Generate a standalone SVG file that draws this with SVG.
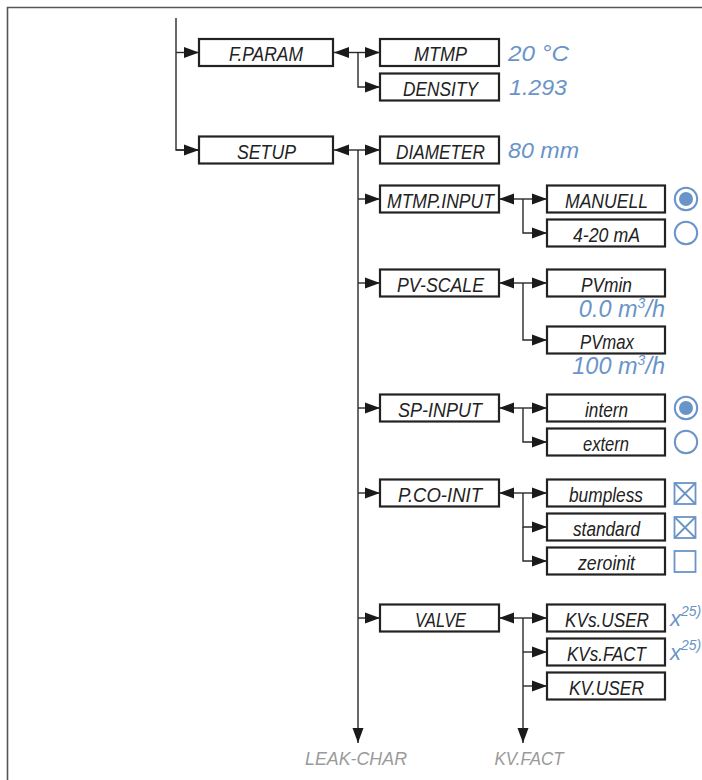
<svg xmlns="http://www.w3.org/2000/svg" width="702" height="780" viewBox="0 0 702 780">
<defs>
<style>
.bx{fill:#fff;stroke:#222;stroke-width:2.2}
.bt{font-family:"Liberation Sans",Arial,sans-serif;font-style:italic;font-size:20.5px;fill:#222;text-anchor:middle}
.val{font-family:"Liberation Sans",Arial,sans-serif;font-style:italic;font-size:22px;fill:#6a94c8}
.big{font-size:23.5px}
.sup{font-family:"Liberation Sans",Arial,sans-serif;font-style:italic;font-size:14px;fill:#6a94c8}
.gr{font-family:"Liberation Sans",Arial,sans-serif;font-style:italic;font-size:18.5px;fill:#9a9a9a;text-anchor:middle}
.cn{fill:none;stroke:#2a2a2a;stroke-width:1.4}
.ar{marker-end:url(#ah)}
.rd{fill:none;stroke:#6a94c8;stroke-width:2}
.dot{fill:#6a94c8}
.ck{fill:none;stroke:#6a94c8;stroke-width:1.8}
</style>
<marker id="ah" markerUnits="userSpaceOnUse" markerWidth="16" markerHeight="12" refX="15" refY="6" orient="auto">
<path d="M0,0.5 L15,6 L0,11.5 z" fill="#1a1a1a"/>
</marker>
</defs>
<rect width="702" height="780" fill="#fff"/>
<path d="M7.5,780 V7.5 H702" fill="none" stroke="#555" stroke-width="1.6"/>

<g id="connectors">
<path class="cn" d="M176,18 V150 H199"/>
<path class="cn ar" d="M176,150 H199"/>
<path class="cn ar" d="M176,52.5 H199"/>
<path class="cn ar" d="M358,52.5 H334"/>
<path class="cn ar" d="M358,52.5 H380"/>
<path class="cn ar" d="M358,52.5 V87 H380"/>
<path class="cn ar" d="M358,150 H334"/>
<path class="cn ar" d="M358,150 H380"/>
<path class="cn ar" d="M358,150 V743"/>
<path class="cn ar" d="M358,199 H380"/>
<path class="cn ar" d="M358,283 H380"/>
<path class="cn ar" d="M358,408 H380"/>
<path class="cn ar" d="M358,493 H380"/>
<path class="cn ar" d="M358,618 H380"/>
<path class="cn ar" d="M523,199 H499"/>
<path class="cn ar" d="M523,199 H547"/>
<path class="cn ar" d="M523,199 V233 H547"/>
<path class="cn ar" d="M523,283 H499"/>
<path class="cn ar" d="M523,283 H547"/>
<path class="cn ar" d="M523,283 V340 H547"/>
<path class="cn ar" d="M523,408 H499"/>
<path class="cn ar" d="M523,408 H547"/>
<path class="cn ar" d="M523,408 V442 H547"/>
<path class="cn ar" d="M523,493 H499"/>
<path class="cn ar" d="M523,493 H547"/>
<path class="cn ar" d="M523,493 V527 H547"/>
<path class="cn ar" d="M523,527 V561 H547"/>
<path class="cn ar" d="M523,618 H499"/>
<path class="cn ar" d="M523,618 H547"/>
<path class="cn ar" d="M523,652 H547"/>
<path class="cn ar" d="M523,686 H547"/>
<path class="cn ar" d="M523,618 V743"/>
</g>

<g id="fparam"><rect class="bx" x="199" y="39" width="134" height="27"/><text class="bt" x="266" y="61" textLength="74" lengthAdjust="spacingAndGlyphs">F.PARAM</text></g>
<g id="setup"><rect class="bx" x="199" y="136.5" width="134" height="27"/><text class="bt" x="266.5" y="158.5" textLength="59" lengthAdjust="spacingAndGlyphs">SETUP</text></g>

<g id="mtmp"><rect class="bx" x="380" y="39" width="119" height="27"/><text class="bt" x="440.5" y="61" textLength="53" lengthAdjust="spacingAndGlyphs">MTMP</text><text class="val" x="508" y="61" textLength="61" lengthAdjust="spacingAndGlyphs">20 °C</text></g>
<g id="density"><rect class="bx" x="380" y="73.5" width="119" height="27"/><text class="bt" x="440.5" y="95.5" textLength="75" lengthAdjust="spacingAndGlyphs">DENSITY</text><text class="val" x="509" y="95" textLength="58" lengthAdjust="spacingAndGlyphs">1.293</text></g>
<g id="diameter"><rect class="bx" x="380" y="136.5" width="119" height="27"/><text class="bt" x="440.5" y="158.5" textLength="89" lengthAdjust="spacingAndGlyphs">DIAMETER</text><text class="val" x="508" y="158" textLength="71" lengthAdjust="spacingAndGlyphs">80 mm</text></g>
<g id="mtmpinput"><rect class="bx" x="380" y="185.5" width="119" height="27"/><text class="bt" x="440.5" y="207.5" textLength="107" lengthAdjust="spacingAndGlyphs">MTMP.INPUT</text></g>
<g id="pvscale"><rect class="bx" x="380" y="269.5" width="119" height="27"/><text class="bt" x="440.5" y="291.5" textLength="87" lengthAdjust="spacingAndGlyphs">PV-SCALE</text></g>
<g id="spinput"><rect class="bx" x="380" y="394.5" width="119" height="27"/><text class="bt" x="440" y="416.5" textLength="84" lengthAdjust="spacingAndGlyphs">SP-INPUT</text></g>
<g id="pcoinit"><rect class="bx" x="380" y="479.5" width="119" height="27"/><text class="bt" x="440" y="501.5" textLength="84" lengthAdjust="spacingAndGlyphs">P.CO-INIT</text></g>
<g id="valve"><rect class="bx" x="380" y="604.5" width="119" height="27"/><text class="bt" x="440.5" y="626.5" textLength="51" lengthAdjust="spacingAndGlyphs">VALVE</text></g>

<g id="manuell"><rect class="bx" x="547" y="185.5" width="118" height="27"/><text class="bt" x="606.5" y="207.5" textLength="83" lengthAdjust="spacingAndGlyphs">MANUELL</text><circle class="rd" cx="686" cy="199" r="11.2"/><circle class="dot" cx="686" cy="199" r="7"/></g>
<g id="ma420"><rect class="bx" x="547" y="219.5" width="118" height="27"/><text class="bt" x="606.5" y="241.5" textLength="67" lengthAdjust="spacingAndGlyphs">4-20 mA</text><circle class="rd" cx="686" cy="233" r="11.2"/></g>
<g id="pvmin"><rect class="bx" x="547" y="269.5" width="118" height="27"/><text class="bt" x="606.5" y="291.5" textLength="51" lengthAdjust="spacingAndGlyphs">PVmin</text><text class="val big" x="665" y="317" text-anchor="end">0.0 m<tspan class="sup" dy="-9">3</tspan><tspan dy="9">/h</tspan></text></g>
<g id="pvmax"><rect class="bx" x="547" y="326.5" width="118" height="27"/><text class="bt" x="607" y="348.5" textLength="54" lengthAdjust="spacingAndGlyphs">PVmax</text><text class="val big" x="665" y="374" text-anchor="end">100 m<tspan class="sup" dy="-9">3</tspan><tspan dy="9">/h</tspan></text></g>
<g id="intern"><rect class="bx" x="547" y="394.5" width="118" height="27"/><text class="bt" x="606.5" y="416.5" textLength="43" lengthAdjust="spacingAndGlyphs">intern</text><circle class="rd" cx="686" cy="408" r="11.2"/><circle class="dot" cx="686" cy="408" r="7"/></g>
<g id="extern"><rect class="bx" x="547" y="428.5" width="118" height="27"/><text class="bt" x="606" y="450.5" textLength="46" lengthAdjust="spacingAndGlyphs">extern</text><circle class="rd" cx="686" cy="442" r="11.2"/></g>
<g id="bumpless"><rect class="bx" x="547" y="479.5" width="118" height="27"/><text class="bt" x="606" y="501.5" textLength="74" lengthAdjust="spacingAndGlyphs">bumpless</text><rect class="ck" x="674.5" y="483" width="21" height="21"/><path class="ck" d="M674.5,483 L695.5,504 M695.5,483 L674.5,504"/></g>
<g id="standard"><rect class="bx" x="547" y="513.5" width="118" height="27"/><text class="bt" x="606.5" y="535.5" textLength="67" lengthAdjust="spacingAndGlyphs">standard</text><rect class="ck" x="674.5" y="517" width="21" height="21"/><path class="ck" d="M674.5,517 L695.5,538 M695.5,517 L674.5,538"/></g>
<g id="zeroinit"><rect class="bx" x="547" y="547.5" width="118" height="27"/><text class="bt" x="606.5" y="569.5" textLength="57" lengthAdjust="spacingAndGlyphs">zeroinit</text><rect class="ck" x="674.5" y="551" width="21" height="21"/></g>
<g id="kvsuser"><rect class="bx" x="547" y="604.5" width="118" height="27"/><text class="bt" x="607" y="626.5" textLength="84" lengthAdjust="spacingAndGlyphs">KVs.USER</text><text class="val" x="670" y="626">x<tspan class="sup" dy="-10">25)</tspan></text></g>
<g id="kvsfact"><rect class="bx" x="547" y="638.5" width="118" height="27"/><text class="bt" x="606.5" y="660.5" textLength="79" lengthAdjust="spacingAndGlyphs">KVs.FACT</text><text class="val" x="670" y="660">x<tspan class="sup" dy="-10">25)</tspan></text></g>
<g id="kvuser"><rect class="bx" x="547" y="672.5" width="118" height="27"/><text class="bt" x="606.5" y="694.5" textLength="75" lengthAdjust="spacingAndGlyphs">KV.USER</text></g>

<g id="leakchar"><text class="gr" x="356" y="765" textLength="102" lengthAdjust="spacingAndGlyphs">LEAK-CHAR</text></g>
<g id="kvfact"><text class="gr" x="529" y="765" textLength="69" lengthAdjust="spacingAndGlyphs">KV.FACT</text></g>
</svg>
